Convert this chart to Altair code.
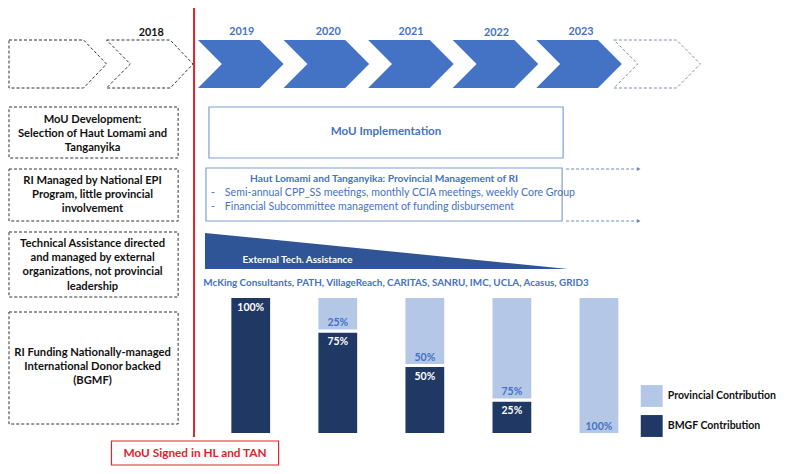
import altair as alt
import pandas as pd

# ---------------- data ----------------
years = ["2019", "2020", "2021", "2022", "2023"]
bmgf_share = [100, 75, 50, 25, 0]
provincial_share = [0, 25, 50, 75, 100]
series_names = ["Provincial Contribution", "BMGF Contribution"]

timeline_labels = ["2018", "2019", "2020", "2021", "2022", "2023"]

left_box_texts = [
    "MoU Development:\nSelection of Haut Lomami and\nTanganyika",
    "RI Managed by National EPI\nProgram, little provincial\ninvolvement",
    "Technical Assistance directed\nand managed by external\norganizations, not provincial\nleadership",
    "RI Funding Nationally-managed\nInternational Donor backed\n(BGMF)",
]
mou_impl_text = "MoU Implementation"
prov_title = "Haut Lomami and Tanganyika: Provincial Management of RI"
prov_bullets = [
    "Semi-annual CPP_SS meetings, monthly CCIA meetings, weekly Core Group",
    "Financial Subcommittee management of funding disbursement",
]
ta_title = "External Tech. Assistance"
ta_partners = "McKing Consultants, PATH, VillageReach, CARITAS, SANRU, IMC, UCLA, Acasus, GRID3"
mou_signed = "MoU Signed in HL and TAN"

# ---------------- layout (page pixel space) ----------------
W, H = 771, 458
XD = [4, 779]      # page x domain
YD = [466, 8]      # page y domain (top = 8)
FONT = "Lato"
BLUE = "#4472C4"
NAVY = "#203864"
LIGHT = "#B4C7E7"
RED = "#E0242B"
TRI = "#2F5597"

xs = alt.Scale(domain=XD)
ys = alt.Scale(domain=YD)


def px(v):
    return (v - XD[0]) * W / (XD[1] - XD[0])


def py(v):
    return (v - YD[1]) * H / (YD[0] - YD[1])


def X(f="x"):
    return alt.X(f"{f}:Q", scale=xs, axis=None)


def Y(f="y"):
    return alt.Y(f"{f}:Q", scale=ys, axis=None)


layers = []

# timeline chevrons (filled)
chev_left = [195, 281, 366, 451, 535]
chev_rows = []
for i, x0 in enumerate(chev_left):
    for yy, a, b in [(40, 0, 62), (64, 24, 86), (88, 0, 62)]:
        chev_rows.append({"id": i, "y": yy, "x": x0 + a, "x2": x0 + b})
layers.append(
    alt.Chart(pd.DataFrame(chev_rows)).mark_area(color=BLUE, orient="horizontal").encode(
        y=Y(), x=X(), x2="x2:Q", detail="id:N"
    )
)

# dashed chevron outlines
outlines = [
    ([(5, 40), (80, 40), (103, 64), (80, 88), (5, 88), (5, 40)], "#333333"),
    ([(103, 40), (167, 40), (190, 64), (167, 88), (103, 88), (127, 64), (103, 40)], "#333333"),
    ([(613, 40), (676, 40), (700, 64), (676, 88), (613, 88), (637, 64), (613, 40)], "#8090AA"),
]
for k, (pts, col) in enumerate(outlines):
    df = pd.DataFrame([{"x": a, "y": b, "o": j} for j, (a, b) in enumerate(pts)])
    layers.append(
        alt.Chart(df).mark_line(color=col, strokeDash=[3, 2], strokeWidth=1).encode(
            x=X(), y=Y(), order="o:Q"
        )
    )

# year labels
year_pos = [(148, 33), (239, 32), (326, 32), (409, 32), (495, 33), (580, 32)]
yl = pd.DataFrame({"t": timeline_labels, "x": [p[0] for p in year_pos], "y": [p[1] for p in year_pos],
                   "c": ["#111111"] + [BLUE] * 5})
layers.append(
    alt.Chart(yl).mark_text(font=FONT, fontWeight="bold", fontSize=10.8, baseline="middle").encode(
        x=X(), y=Y(), text="t:N", color=alt.Color("c:N", scale=None)
    )
)

# left dashed boxes
lb = pd.DataFrame({"x": [5] * 4, "x2": [175] * 4, "y": [107, 169, 232, 312], "y2": [158, 221, 297, 424]})
layers.append(
    alt.Chart(lb).mark_rect(fill="white", stroke="#333333", strokeDash=[3, 2], strokeWidth=1).encode(
        x=X(), x2="x2:Q", y=Y(), y2="y2:Q"
    )
)
lt = pd.DataFrame({"t": left_box_texts, "x": [89] * 4, "y": [120, 181, 244, 353]})
layers.append(
    alt.Chart(lt).mark_text(font=FONT, fontWeight="bold", fontSize=11.2, lineBreak="\n", lineHeight=14.2,
                            baseline="middle", color="#111111").encode(x=X(), y=Y(), text="t:N")
)

# red vertical line
layers.append(
    alt.Chart(pd.DataFrame({"x": [191], "y": [0], "y2": [437]})).mark_rule(color=RED, strokeWidth=2).encode(
        x=X(), y=Y(), y2="y2:Q"
    )
)

# blue boxes
bb = pd.DataFrame({"x": [206, 203], "x2": [562, 561], "y": [107, 168], "y2": [158, 221]})
layers.append(
    alt.Chart(bb).mark_rect(fill="white", stroke="#7F9FD6", strokeWidth=1.2).encode(
        x=X(), x2="x2:Q", y=Y(), y2="y2:Q"
    )
)
layers.append(
    alt.Chart(pd.DataFrame({"t": [mou_impl_text], "x": [384], "y": [132]})).mark_text(
        font=FONT, fontWeight="bold", fontSize=11.6, color=BLUE, baseline="middle"
    ).encode(x=X(), y=Y(), text="t:N")
)
layers.append(
    alt.Chart(pd.DataFrame({"t": [prov_title], "x": [382], "y": [179]})).mark_text(
        font=FONT, fontWeight="bold", fontSize=10.2, color=BLUE, baseline="middle"
    ).encode(x=X(), y=Y(), text="t:N")
)
layers.append(
    alt.Chart(pd.DataFrame({"t": ["-", "-"], "x": [208, 208], "y": [193, 207]})).mark_text(
        font=FONT, fontSize=10.6, color=BLUE, baseline="middle", align="left"
    ).encode(x=X(), y=Y(), text="t:N")
)
layers.append(
    alt.Chart(pd.DataFrame({"t": prov_bullets, "x": [222, 222], "y": [193, 207]})).mark_text(
        font=FONT, fontSize=10.6, color=BLUE, baseline="middle", align="left"
    ).encode(x=X(), y=Y(), text="t:N")
)

# dashed continuation arrows
ar = pd.DataFrame({"x": [565, 565], "x2": [636, 636], "y": [169, 221]})
layers.append(
    alt.Chart(ar).mark_rule(color="#6F8AB7", strokeDash=[3, 2], strokeWidth=1).encode(
        x=X(), x2="x2:Q", y=Y()
    )
)
layers.append(
    alt.Chart(pd.DataFrame({"x": [638, 638], "y": [169, 221]})).mark_point(
        shape="triangle-right", filled=True, size=18, color="#6F8AB7", opacity=1
    ).encode(x=X(), y=Y())
)

# technical assistance wedge
tri = pd.DataFrame({"x": [202, 567], "y": [233, 269], "y2": [269, 269]})
layers.append(
    alt.Chart(tri).mark_area(color=TRI).encode(x=X(), y=Y(), y2="y2:Q")
)
layers.append(
    alt.Chart(pd.DataFrame({"t": [ta_title], "x": [295], "y": [260]})).mark_text(
        font=FONT, fontWeight="bold", fontSize=9.9, color="white", baseline="middle"
    ).encode(x=X(), y=Y(), text="t:N")
)
layers.append(
    alt.Chart(pd.DataFrame({"t": [ta_partners], "x": [394], "y": [283]})).mark_text(
        font=FONT, fontWeight="bold", fontSize=9.9, color=BLUE, baseline="middle"
    ).encode(x=X(), y=Y(), text="t:N")
)

# red signed box
layers.append(
    alt.Chart(pd.DataFrame({"x": [108], "x2": [276], "y": [441], "y2": [465]})).mark_rect(
        fill="white", stroke=RED, strokeWidth=1.2
    ).encode(x=X(), x2="x2:Q", y=Y(), y2="y2:Q")
)
layers.append(
    alt.Chart(pd.DataFrame({"t": [mou_signed], "x": [192], "y": [453]})).mark_text(
        font=FONT, fontWeight="bold", fontSize=11.8, color=RED, baseline="middle"
    ).encode(x=X(), y=Y(), text="t:N")
)

scene = alt.layer(*layers)

# ---------------- stacked funding bars ----------------
rows = []
for yr, b, p in zip(years, bmgf_share, provincial_share):
    rows.append({"year": yr, "series": "BMGF Contribution", "share": b, "ord": 0, "bmgf": b})
    rows.append({"year": yr, "series": "Provincial Contribution", "share": p, "ord": 1, "bmgf": b})
bars_df = pd.DataFrame(rows)

bx = alt.Scale(domain=years, range=[px(227), px(619)], paddingInner=0.52, paddingOuter=0)
by = alt.Scale(domain=[0, 100], range=[py(434.5), py(296.5)])

bars = alt.Chart(bars_df).mark_bar(stroke="white", strokeWidth=3).encode(
    x=alt.X("year:N", scale=bx, axis=None),
    y=alt.Y("share:Q", scale=by, axis=None, stack="zero"),
    color=alt.Color(
        "series:N",
        scale=alt.Scale(domain=series_names, range=[LIGHT, NAVY]),
        legend=alt.Legend(
            title=None, orient="none", legendX=px(640), legendY=py(385), padding=0,
            symbolType="square", symbolSize=480, symbolStrokeWidth=0, symbolOpacity=1,
            labelFont=FONT, labelFontWeight="bold", labelFontSize=10.5, labelColor="#111111",
            rowPadding=8, labelOffset=5, labelLimit=200,
        ),
    ),
    order=alt.Order("ord:Q"),
)

dark_lbl = alt.Chart(bars_df).transform_filter(
    "datum.series == 'BMGF Contribution' && datum.share > 0"
).transform_calculate(lbl="datum.share + '%'").mark_text(
    font=FONT, fontWeight="bold", fontSize=10.5, color="white", baseline="middle", dy=11
).encode(
    x=alt.X("year:N", scale=bx, axis=None),
    y=alt.Y("bmgf:Q", scale=by, axis=None),
    text="lbl:N",
)
light_lbl = alt.Chart(bars_df).transform_filter(
    "datum.series == 'Provincial Contribution' && datum.share > 0"
).transform_calculate(lbl="datum.share + '%'").mark_text(
    font=FONT, fontWeight="bold", fontSize=10.5, color=BLUE, baseline="middle", dy=-8
).encode(
    x=alt.X("year:N", scale=bx, axis=None),
    y=alt.Y("bmgf:Q", scale=by, axis=None),
    text="lbl:N",
)

funding = alt.layer(bars, dark_lbl, light_lbl)

chart = alt.layer(scene, funding).resolve_scale(
    x="independent", y="independent"
).properties(
    width=W, height=H, padding=0, autosize=alt.AutoSizeParams(type="none")
).configure_view(stroke=None)

chart.save("out.html", embed_options={"renderer": "svg", "actions": False})
